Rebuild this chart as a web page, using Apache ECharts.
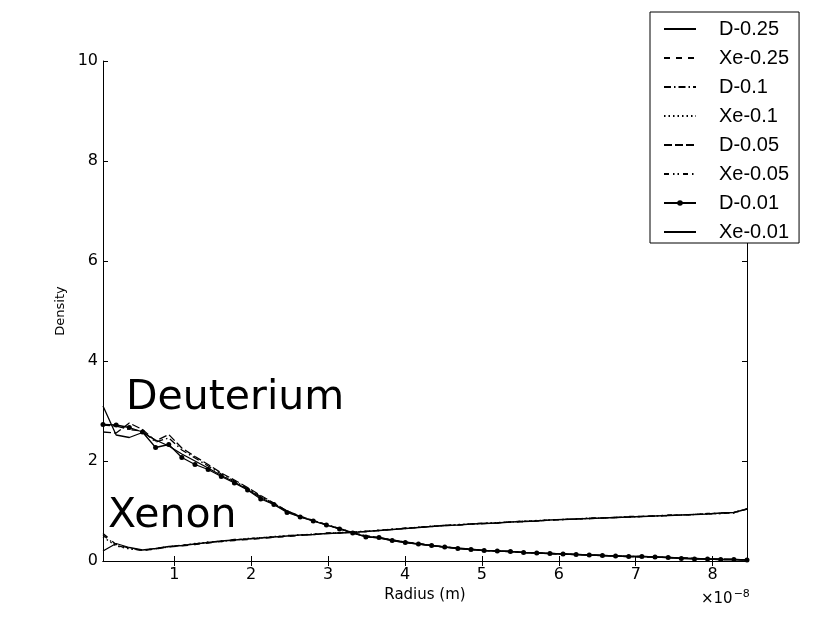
<!DOCTYPE html>
<html><head><meta charset="utf-8">
<script src="https://cdn.jsdelivr.net/npm/echarts@6/dist/echarts.min.js"></script>
<style>html,body{margin:0;padding:0;background:#fff}#c{width:830px;height:623px}</style>
</head><body><div id="c"></div>
<script>
const radius = [0.073,0.244,0.415,0.586,0.757,0.928,1.098,1.269,1.440,1.611,1.782,1.953,2.124,2.295,2.466,2.637,2.807,2.978,3.149,3.320,3.491,3.662,3.833,4.004,4.175,4.346,4.516,4.687,4.858,5.029,5.200,5.371,5.542,5.713,5.884,6.055,6.225,6.396,6.567,6.738,6.909,7.080,7.251,7.422,7.593,7.764,7.934,8.105,8.276,8.447];
const d025 = [3.10,2.52,2.47,2.57,2.42,2.30,2.14,2.00,1.86,1.71,1.58,1.43,1.27,1.13,0.99,0.88,0.80,0.72,0.64,0.56,0.49,0.46,0.41,0.37,0.34,0.31,0.28,0.25,0.23,0.21,0.20,0.19,0.17,0.16,0.15,0.14,0.13,0.12,0.11,0.10,0.09,0.09,0.08,0.07,0.06,0.05,0.04,0.03,0.03,0.02];
const xe025 = [0.55,0.33,0.26,0.21,0.24,0.28,0.30,0.33,0.36,0.39,0.41,0.43,0.45,0.47,0.49,0.51,0.53,0.55,0.56,0.58,0.59,0.61,0.63,0.65,0.67,0.69,0.71,0.72,0.74,0.75,0.76,0.78,0.79,0.80,0.82,0.83,0.84,0.85,0.86,0.87,0.88,0.89,0.90,0.91,0.92,0.93,0.94,0.96,0.97,1.04];
const d010 = [2.72,2.70,2.63,2.60,2.38,2.46,2.22,2.06,1.90,1.74,1.60,1.45,1.29,1.15,1.00,0.89,0.81,0.73,0.65,0.57,0.50,0.47,0.42,0.38,0.34,0.31,0.28,0.26,0.23,0.21,0.20,0.19,0.17,0.16,0.15,0.14,0.13,0.12,0.11,0.10,0.09,0.09,0.08,0.07,0.06,0.05,0.04,0.03,0.03,0.02];
const xe010 = [0.48,0.30,0.24,0.22,0.25,0.29,0.31,0.35,0.37,0.40,0.42,0.45,0.46,0.49,0.50,0.52,0.54,0.55,0.57,0.58,0.60,0.61,0.64,0.65,0.68,0.69,0.71,0.73,0.74,0.75,0.77,0.78,0.79,0.81,0.82,0.83,0.84,0.85,0.86,0.87,0.88,0.89,0.90,0.91,0.92,0.93,0.94,0.95,0.97,1.04];
const d005 = [2.58,2.56,2.76,2.63,2.40,2.53,2.26,2.09,1.93,1.76,1.62,1.47,1.31,1.16,1.00,0.90,0.81,0.73,0.65,0.57,0.50,0.47,0.42,0.38,0.35,0.31,0.28,0.26,0.24,0.21,0.20,0.19,0.17,0.16,0.15,0.14,0.13,0.12,0.11,0.10,0.09,0.08,0.08,0.07,0.06,0.05,0.04,0.04,0.03,0.02];
const xe005 = [0.52,0.31,0.25,0.21,0.24,0.28,0.32,0.34,0.38,0.39,0.43,0.44,0.47,0.48,0.51,0.52,0.53,0.56,0.56,0.58,0.59,0.62,0.63,0.66,0.67,0.70,0.71,0.72,0.74,0.76,0.76,0.78,0.80,0.80,0.82,0.83,0.84,0.86,0.86,0.87,0.89,0.89,0.90,0.92,0.92,0.93,0.95,0.95,0.96,1.04];
const d001 = [2.73,2.72,2.67,2.58,2.27,2.33,2.07,1.93,1.83,1.69,1.56,1.42,1.24,1.13,0.97,0.88,0.80,0.72,0.64,0.56,0.48,0.47,0.41,0.37,0.34,0.31,0.28,0.25,0.23,0.21,0.20,0.19,0.17,0.16,0.15,0.14,0.13,0.12,0.11,0.10,0.09,0.09,0.08,0.07,0.05,0.04,0.04,0.03,0.03,0.02];
const xe001 = [0.20,0.35,0.27,0.22,0.25,0.29,0.31,0.34,0.37,0.40,0.42,0.44,0.46,0.48,0.50,0.52,0.53,0.55,0.56,0.57,0.59,0.61,0.63,0.65,0.67,0.69,0.71,0.72,0.74,0.75,0.76,0.78,0.79,0.80,0.82,0.83,0.84,0.85,0.86,0.87,0.88,0.89,0.90,0.91,0.92,0.93,0.94,0.96,0.97,1.04];
const xTicks = [1,2,3,4,5,6,7,8];

const seriesDefs = [
  {name:'D-0.25', data:d025, dash:'solid'},
  {name:'Xe-0.25', data:xe025, dash:[6,6]},
  {name:'D-0.1', data:d010, dash:[7,3,1.5,3]},
  {name:'Xe-0.1', data:xe010, dash:[1.5,3]},
  {name:'D-0.05', data:d005, dash:[8,3]},
  {name:'Xe-0.05', data:xe005, dash:[5,4,1.5,3,1.5,4]},
  {name:'D-0.01', data:d001, dash:'solid', sym:true},
  {name:'Xe-0.01', data:xe001, dash:'solid'}
];
const font = 'DejaVu Sans';
const chart = echarts.init(document.getElementById('c'), null, {renderer:'canvas'});
const axisCommon = {
  type:'value', min:0.073, max:8.447,
  axisLine:{lineStyle:{color:'#000', width:1}},
  splitLine:{show:false}
};
chart.setOption({
  animation:false,
  backgroundColor:'#fff',
  grid:{left:103, top:61, right:83, bottom:62, containLabel:false},
  xAxis:[
    Object.assign({}, axisCommon, {position:'bottom',
      name:'Radius (m)', nameLocation:'middle', nameGap:24,
      nameTextStyle:{fontFamily:font, fontSize:15, color:'#000'},
      axisTick:{inside:true, length:5, customValues:xTicks, lineStyle:{color:'#000'}},
      axisLabel:{customValues:xTicks, margin:6, fontFamily:font, fontSize:16, color:'#000'}}),
    Object.assign({}, axisCommon, {position:'top',
      axisTick:{inside:true, length:5, customValues:xTicks, lineStyle:{color:'#000'}},
      axisLabel:{show:false}})
  ],
  yAxis:[
    {type:'value', min:0, max:10, interval:2, position:'left',
      name:'Density', nameLocation:'middle', nameGap:27, nameRotate:90,
      nameTextStyle:{fontFamily:font, fontSize:13, color:'#000'},
      axisLine:{show:true, lineStyle:{color:'#000'}},
      axisTick:{show:true, inside:true, length:5, lineStyle:{color:'#000'}},
      axisLabel:{margin:5, fontFamily:font, fontSize:16, color:'#000'},
      splitLine:{show:false}},
    {type:'value', min:0, max:10, interval:2, position:'right',
      axisLine:{show:true, lineStyle:{color:'#000'}},
      axisTick:{show:true, inside:true, length:5, lineStyle:{color:'#000'}},
      axisLabel:{show:false}, splitLine:{show:false}}
  ],
  legend:{
    orient:'vertical', left:650, top:12,
    padding:[7,10,1,13], itemGap:9, itemWidth:32, itemHeight:7,
    borderColor:'#000', borderWidth:1, borderRadius:0, backgroundColor:'#fff',
    textStyle:{fontFamily:'Liberation Sans', fontSize:20, lineHeight:20, color:'#000', padding:[0,0,0,18]},
    data: seriesDefs.map(s=> s.sym ? {name:s.name} : {name:s.name, itemStyle:{opacity:0}})
  },
  series: seriesDefs.map(s=>({
    name:s.name, type:'line', xAxisIndex:0, yAxisIndex:0,
    data: radius.map((r,i)=>[r, s.data[i]]),
    symbol: s.sym ? 'circle' : 'none', symbolSize:5, showSymbol: !!s.sym,
    itemStyle:{color:'#000'},
    lineStyle:{color:'#000', width:1.3, type:s.dash},
    emphasis:{disabled:true}, silent:true
  })),
  graphic:[
    {type:'text', x:126, y:398, style:{text:'Deuterium', font:'41px "DejaVu Sans"', fill:'#000', textVerticalAlign:'middle'}},
    {type:'text', x:108, y:516, style:{text:'Xenon', font:'41px "DejaVu Sans"', fill:'#000', textVerticalAlign:'middle'}},
    {type:'text', x:701, y:599, style:{text:'{a|×10}{b|−8}', textVerticalAlign:'middle',
      rich:{a:{fontFamily:font, fontSize:15, color:'#000'}, b:{fontFamily:font, fontSize:11, color:'#000', padding:[0,0,9,1]}}}}
  ]
});
</script></body></html>
